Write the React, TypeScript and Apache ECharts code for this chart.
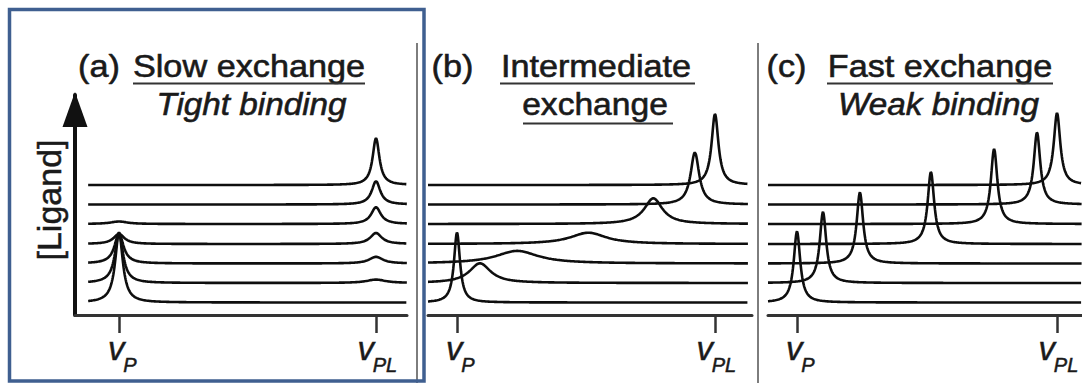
import React, { useEffect, useRef } from 'react';
import * as echarts from 'echarts';

// ---------------- data ----------------
// vertical offset of each spectrum (bottom -> top = increasing [Ligand])
const ligandOffsets = [1.25, 3.2, 5.15, 7.1, 9.1, 11.05, 13.0];

// chemical-shift positions: 0 = nu_P, 1 = nu_PL
const tickValues = [0, 1];
const tickSubscripts = ['P', 'PL'];

// (a) Slow exchange: peak at nu_P and nu_PL in every spectrum, [height, half-width]
const slowHeightsP = [7.0, 5.0, 3.0, 1.0, 0.25, 0, 0];
const slowWidthsP = [0.018, 0.019, 0.021, 0.026, 0.04, 0.04, 0.04];
const slowHeightsPL = [0, 0.34, 0.67, 1.1, 1.67, 2.33, 4.67];
const slowWidthsPL = [0.04, 0.045, 0.032, 0.027, 0.023, 0.02, 0.016];

// (b) Intermediate exchange: one averaged peak per spectrum
const intCenters = [0.0, 0.089, 0.233, 0.509, 0.761, 0.922, 1.0];
const intHeights = [7.0, 1.97, 1.26, 1.13, 2.57, 5.2, 7.1];
const intWidths = [0.014, 0.05, 0.1, 0.085, 0.043, 0.02, 0.016];

// (c) Fast exchange: one sharp peak per spectrum
const fastCenters = [0.0, 0.1, 0.242, 0.515, 0.758, 0.923, 1.0];
const fastHeights = [7.1, 7.1, 7.1, 7.2, 7.5, 7.2, 7.2];
const fastWidths = [0.015, 0.015, 0.015, 0.015, 0.015, 0.015, 0.015];

// panel titles
const panelLetters = ['(a)', '(b)', '(c)'];
const titleLine1 = ['Slow exchange', 'Intermediate', 'Fast exchange'];
const titleLine2 = ['Tight binding', 'exchange', 'Weak binding'];
const yAxisName = '[Ligand]';

// ---------------- layout ----------------
const FONT = '"Liberation Sans", Arial, Helvetica, sans-serif';
const INK = '#1a1a1a';

type Peak = [number, number, number];

function lorentzSpectrum(offset: number, peaks: Peak[], x0: number, x1: number) {
  const xs: number[] = [];
  for (let x = x0; x <= x1 + 1e-9; x += 0.002) xs.push(+x.toFixed(4));
  peaks.forEach((p) => xs.push(p[0]));
  xs.sort((a, b) => a - b);
  return xs
    .filter((x) => x >= x0 && x <= x1)
    .map((x) => [
      x,
      offset + peaks.reduce((s, [c, h, w]) => s + h / (1 + ((x - c) / w) ** 2), 0),
    ]);
}

const panels = [
  { left: 75, right: 675, xMin: -0.1712, xMax: 1.1206, t0: -0.12, t1: 1.12 },
  { left: 428, right: 330, xMin: -0.1124, xMax: 1.1434, t0: -0.1124, t1: 1.128 },
  { left: 768, right: 0, xMin: -0.1115, xMax: 1.096, t0: -0.1115, t1: 1.096 },
];

function peaksFor(panel: number, i: number): Peak[] {
  if (panel === 0)
    return [
      [tickValues[0], slowHeightsP[i], slowWidthsP[i]],
      [tickValues[1], slowHeightsPL[i], slowWidthsPL[i]],
    ];
  if (panel === 1) return [[intCenters[i], intHeights[i], intWidths[i]]];
  return [[fastCenters[i], fastHeights[i], fastWidths[i]]];
}

function buildOption() {
  const grid = panels.map((p) => ({ left: p.left, right: p.right, top: 95, bottom: 68 }));
  const tok = { fontStyle: 'italic', fontFamily: FONT, color: INK, textBorderColor: INK, textBorderWidth: 0.5 };
  const labelRich = {
    vp: { ...tok, fontSize: 33, width: 14, padding: [0, 0, 0, 8] },
    v: { ...tok, fontSize: 33, width: 14, padding: [0, 0, 0, 4] },
    s: { ...tok, fontSize: 20, padding: [34, 0, 0, 0] },
  };
  const xAxis = panels.map((p, k) => ({
    type: 'value',
    gridIndex: k,
    min: p.xMin,
    max: p.xMax,
    splitLine: { show: false },
    axisLine: { show: true, onZero: false, lineStyle: { color: '#333', width: 3 } },
    axisTick: { show: true, customValues: tickValues, length: 18, lineStyle: { color: '#333', width: 2.5 } },
    axisLabel: {
      show: true,
      customValues: tickValues,
      margin: 6,
      formatter: (val: number) =>
        Math.abs(val) < 1e-6 ? `{vp|v}{s|${tickSubscripts[0]}}` : `{v|v}{s|${tickSubscripts[1]}}`,
      rich: labelRich,
    },
  }));
  const yAxis = panels.map((p, k) => ({
    type: 'value',
    gridIndex: k,
    min: 0,
    max: 22,
    show: k === 0,
    splitLine: { show: false },
    axisTick: { show: false },
    axisLabel: { show: false },
    axisLine: {
      show: k === 0,
      onZero: false,
      lineStyle: { color: '#111', width: 4 },
      symbol: ['none', 'path://M0,35 L12.5,0 L25,35 Z'],
      symbolSize: [25, 35],
      symbolOffset: [0, -14.5],
    },
    name: k === 0 ? yAxisName : '',
    nameLocation: 'middle',
    nameRotate: 90,
    nameGap: 9,
    nameTextStyle: {
      fontSize: 34, color: INK, fontFamily: FONT, padding: [0, 0, 0, 10],
      textBorderColor: INK, textBorderWidth: 0.5,
    },
  }));

  const series: any[] = [];
  panels.forEach((p, k) => {
    ligandOffsets.forEach((off, i) => {
      series.push({
        type: 'line',
        xAxisIndex: k,
        yAxisIndex: k,
        data: lorentzSpectrum(off, peaksFor(k, i), p.t0, p.t1),
        showSymbol: false,
        symbol: 'none',
        clip: false,
        silent: true,
        lineStyle: { color: '#0e0e0e', width: 2.6 },
      });
    });
  });

  const titleX = [
    { letter: 99, l1: 249, l2: 251.5, u1: [133, 365], u2: null as null | number[] },
    { letter: 452.5, l1: 596, l2: 595, u1: [500, 695], u2: [523, 673] },
    { letter: 786.5, l1: 940, l2: 938.5, u1: [827, 1053], u2: null as null | number[] },
  ];
  const txt = { fontSize: 32, fontFamily: FONT, fill: INK, stroke: INK, lineWidth: 0.6, align: 'center', verticalAlign: 'middle' };
  const graphic: any[] = [];
  titleX.forEach((t, k) => {
    const italic2 = k !== 1;
    graphic.push({ type: 'text', x: t.letter, y: 66, scaleX: 1.07, z: 50, style: { ...txt, text: panelLetters[k] } });
    graphic.push({ type: 'text', x: t.l1, y: 66, scaleX: 1.07, z: 50, style: { ...txt, text: titleLine1[k] } });
    graphic.push({
      type: 'text', x: t.l2, y: 104, scaleX: italic2 ? 1.04 : 1.05, z: 50,
      style: { ...txt, text: titleLine2[k], fontStyle: italic2 ? 'italic' : 'normal' },
    });
    graphic.push({
      type: 'line', z: 50,
      shape: { x1: t.u1[0], y1: 83.5, x2: t.u1[1], y2: 83.5 },
      style: { stroke: '#333', lineWidth: 2.2 },
    });
    if (t.u2) {
      graphic.push({
        type: 'line', z: 50,
        shape: { x1: t.u2[0], y1: 123.5, x2: t.u2[1], y2: 123.5 },
        style: { stroke: '#333', lineWidth: 2.2 },
      });
    }
  });
  // panel separators
  [417, 758].forEach((x) => {
    graphic.push({
      type: 'line', z: 40,
      shape: { x1: x, y1: 43, x2: x, y2: 383 },
      style: { stroke: '#7d7d7d', lineWidth: 2 },
    });
  });
  // highlight frame around panel (a)
  graphic.push({
    type: 'rect', z: 100,
    shape: { x: 9.5, y: 9.5, width: 414.5, height: 371.5 },
    style: { fill: 'none', stroke: '#3f5f90', lineWidth: 3.5 },
  });

  return {
    animation: false,
    backgroundColor: '#ffffff',
    grid,
    xAxis,
    yAxis,
    series,
    graphic,
  };
}

export default function App() {
  const ref = useRef<HTMLDivElement>(null);
  useEffect(() => {
    if (!ref.current) return;
    const chart = echarts.init(ref.current, null, { renderer: 'svg' });
    chart.setOption(buildOption() as any);
    return () => chart.dispose();
  }, []);
  return (
    <div
      ref={ref}
      style={{ position: 'absolute', left: 0, top: 0, width: 1082, height: 383, background: '#fff' }}
    />
  );
}
